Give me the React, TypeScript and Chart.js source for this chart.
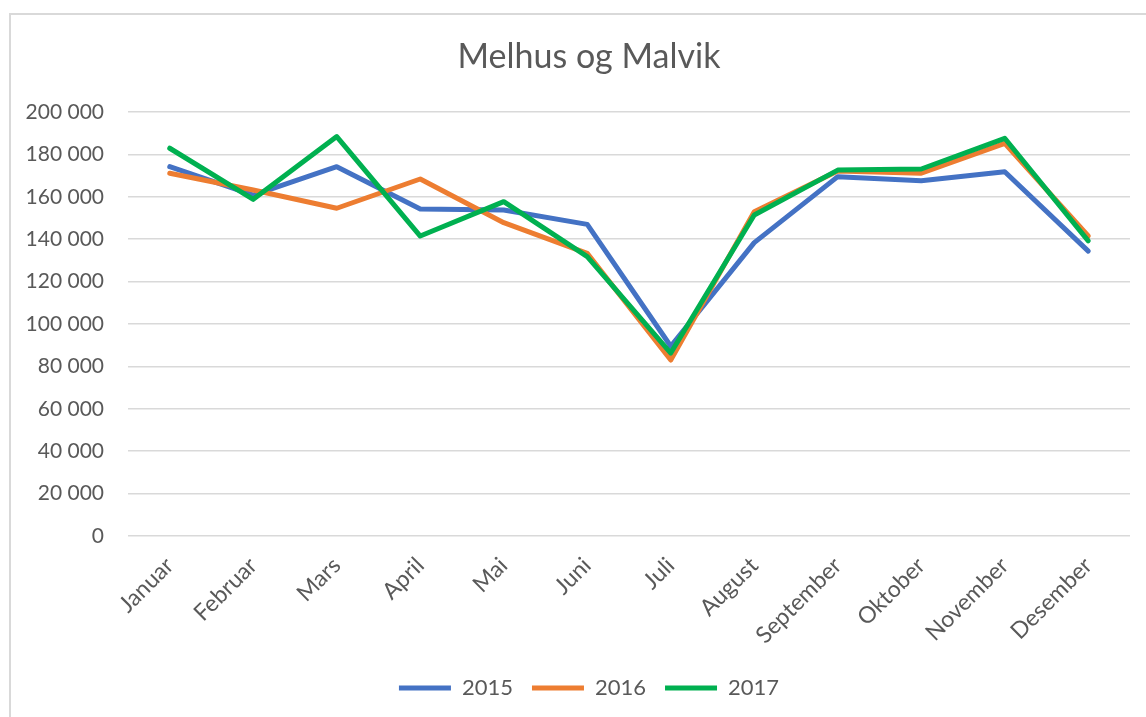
import { useEffect, useRef } from "react";
import { Chart, registerables } from "chart.js";

Chart.register(...registerables);

const chartTitle = "Melhus og Malvik";
const months = [
  "Januar", "Februar", "Mars", "April", "Mai", "Juni",
  "Juli", "August", "September", "Oktober", "November", "Desember",
];
const series2015 = [174200, 160800, 174200, 154200, 153800, 147000, 89500, 138400, 169500, 167600, 171800, 134400];
const series2016 = [171100, 163200, 154600, 168400, 147800, 133300, 83000, 153000, 172200, 171100, 185200, 141500];
const series2017 = [182900, 158800, 188400, 141500, 157700, 131800, 86300, 151400, 172600, 173100, 187600, 139200];
const yMin = 0;
const yMax = 200000;
const yStep = 20000;

const FONT = "Lato, 'Liberation Sans', sans-serif";
const TEXT = "#595959";
const GRID = "#d9d9d9";

function fmt(v: number): string {
  return String(v).replace(/\B(?=(\d{3})+(?!\d))/g, " ");
}

// Let the y tick labels extend to the left edge of the canvas (no clipping).
const unclipY = {
  id: "unclipY",
  afterLayout(chart: any) {
    if (chart.scales.y) chart.scales.y.left = 0;
  },
};

export default function App() {
  const ref = useRef<HTMLCanvasElement | null>(null);

  useEffect(() => {
    if (!ref.current) return;
    const mk = (label: string, data: number[], color: string, order: number) => ({
      label,
      data,
      borderColor: color,
      backgroundColor: color,
      borderWidth: 5,
      borderCapStyle: "round" as const,
      borderJoinStyle: "round" as const,
      pointRadius: 0,
      pointHoverRadius: 0,
      tension: 0,
      fill: false,
      order,
    });
    const chart = new Chart(ref.current, {
      type: "line",
      data: {
        labels: months,
        datasets: [
          mk("2015", series2015, "#4472C4", 2),
          mk("2016", series2016, "#ED7D31", 1),
          mk("2017", series2017, "#00B050", 0),
        ],
      },
      plugins: [unclipY],
      options: {
        responsive: false,
        animation: false,
        events: [],
        layout: { padding: { left: 48, right: 16, top: 0, bottom: 8 } },
        plugins: {
          title: {
            display: true,
            text: chartTitle,
            color: TEXT,
            font: { family: FONT, size: 34, weight: "normal" },
            padding: { top: 36.6, bottom: 34.6 },
          },
          legend: {
            display: true,
            position: "bottom",
            labels: {
              usePointStyle: true,
              pointStyle: "line",
              pointStyleWidth: 52,
              boxWidth: 52,
              padding: 19,
              color: TEXT,
              font: { family: FONT, size: 22 },
              sort: (a: any, b: any) => a.datasetIndex - b.datasetIndex,
            },
          },
          tooltip: { enabled: false },
        },
        scales: {
          x: {
            type: "category",
            offset: true,
            grid: { display: false },
            border: { display: false },
            ticks: {
              autoSkip: false,
              minRotation: 45,
              maxRotation: 45,
              padding: 8,
              color: TEXT,
              font: { family: FONT, size: 23 },
            },
            afterFit: (s: any) => {
              s.height = 122;
            },
          },
          y: {
            min: yMin,
            max: yMax,
            grid: { color: GRID, lineWidth: 1.5, drawTicks: false },
            border: { display: false },
            ticks: {
              stepSize: yStep,
              padding: 24,
              color: TEXT,
              font: { family: FONT, size: 21 },
              callback: (v: any) => fmt(Number(v)),
            },
            afterFit: (s: any) => {
              s.width = 80;
            },
          },
        },
      },
    });
    return () => chart.destroy();
  }, []);

  return (
    <div
      style={{
        position: "absolute",
        left: 0,
        top: 0,
        width: 1146,
        height: 717,
        overflow: "hidden",
        background: "#fff",
      }}
    >
      <div
        style={{
          position: "absolute",
          left: 9,
          top: 13,
          width: 1300,
          height: 900,
          border: `2px solid ${GRID}`,
          boxSizing: "border-box",
        }}
      />
      <canvas
        ref={ref}
        width={1146}
        height={717}
        style={{ position: "absolute", left: 0, top: 0, width: 1146, height: 717 }}
      />
    </div>
  );
}
